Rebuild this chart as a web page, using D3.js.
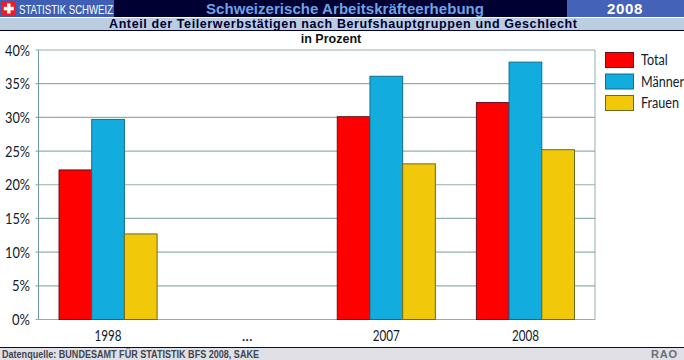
<!DOCTYPE html>
<html>
<head>
<meta charset="utf-8">
<script src="https://cdn.jsdelivr.net/npm/d3@7"></script>
<style>
html, body { margin: 0; padding: 0; background: #fff; }
svg { display: block; }
.head { font-family: "Liberation Sans", Arial, sans-serif; font-weight: bold; }
.lab { font-family: Lato, "Noto Sans", sans-serif; fill: #10202c; }
</style>
</head>
<body>
<div class="chart"></div>
<script>
const WIDTH = 684;
const HEIGHT = 360;

const MARGIN = {top: 50, left: 38.5, right: 595, bottom: 319.5};

const categories = ['1998', '...', '2007', '2008'];
const seriesNames = ['Total', 'Männer', 'Frauen'];
const total = [22.2, null, 30.1, 32.2];
const maenner = [29.7, null, 36.1, 38.2];
const frauen = [12.7, null, 23.1, 25.2];
const yTicks = [0, 5, 10, 15, 20, 25, 30, 35, 40];

const seriesValues = [total, maenner, frauen];
const fills = ['#ff0000', '#13acdf', '#f2c80a'];
const strokes = ['#6a1020', '#0f6f8c', '#6d6a20'];

var svg = d3.select('.chart').append('svg')
    .attr('width', WIDTH)
    .attr('height', HEIGHT);

var xScale = d3.scaleBand()
    .domain(categories)
    .range([MARGIN.left, MARGIN.right])
    .paddingInner(0.295)
    .paddingOuter(0.1475);

var innerScale = d3.scaleBand()
    .domain(seriesNames)
    .range([0, xScale.bandwidth()]);

var yScale = d3.scaleLinear()
    .domain([0, 40])
    .range([MARGIN.bottom, MARGIN.top]);

// header bands
svg.append('rect').attr('width', WIDTH).attr('height', 17).attr('fill', '#000033');
svg.append('rect').attr('width', 114).attr('height', 17).attr('fill', '#3e5fb4');
svg.append('rect').attr('x', 567).attr('width', WIDTH - 567).attr('height', 17).attr('fill', '#4463b8');
svg.append('rect').attr('y', 18).attr('width', WIDTH).attr('height', 12).attr('fill', '#bccde0');
svg.append('rect').attr('y', 30).attr('width', WIDTH).attr('height', 1).attr('fill', '#000033');

// swiss flag
svg.append('rect').attr('x', 1).attr('y', 1).attr('width', 15).attr('height', 15).attr('fill', '#ee1c25');
svg.append('rect').attr('x', 7).attr('y', 3.5).attr('width', 3.5).attr('height', 10).attr('fill', '#fff');
svg.append('rect').attr('x', 3.8).attr('y', 6.8).attr('width', 10).attr('height', 3.5).attr('fill', '#fff');

svg.append('text').attr('x', 19).attr('y', 13.5)
    .attr('font-family', '"Liberation Sans", Arial, sans-serif')
    .attr('font-size', 12.5).attr('fill', '#fff')
    .attr('textLength', 94).attr('lengthAdjust', 'spacingAndGlyphs')
    .text('STATISTIK SCHWEIZ');

svg.append('text').attr('class', 'head').attr('x', 345).attr('y', 14)
    .attr('text-anchor', 'middle').attr('font-size', 15).attr('fill', '#6fa3e6')
    .attr('textLength', 278)
    .text('Schweizerische Arbeitskräfteerhebung');

svg.append('text').attr('class', 'head').attr('x', 625).attr('y', 14)
    .attr('text-anchor', 'middle').attr('font-size', 15).attr('fill', '#fff')
    .attr('letter-spacing', 0.6)
    .text('2008');

svg.append('text').attr('class', 'head').attr('x', 343).attr('y', 28)
    .attr('text-anchor', 'middle').attr('font-size', 12.5).attr('fill', '#000033')
    .attr('textLength', 468)
    .text('Anteil der Teilerwerbstätigen nach Berufshauptgruppen und Geschlecht');

svg.append('text').attr('class', 'head').attr('x', 331).attr('y', 43)
    .attr('text-anchor', 'middle').attr('font-size', 12.5).attr('fill', '#111')
    .text('in Prozent');

// gridlines and plot frame
svg.append('g').selectAll('line').data(yTicks)
    .enter().append('line')
    .attr('x1', MARGIN.left - 3)
    .attr('x2', MARGIN.right)
    .attr('y1', d => yScale(d))
    .attr('y2', d => yScale(d))
    .attr('stroke', '#8fb0ae')
    .attr('stroke-width', 1.2);

svg.append('line')
    .attr('x1', MARGIN.left).attr('x2', MARGIN.left)
    .attr('y1', MARGIN.top).attr('y2', MARGIN.bottom)
    .attr('stroke', '#6f9a9a');
svg.append('line')
    .attr('x1', MARGIN.right).attr('x2', MARGIN.right)
    .attr('y1', MARGIN.top).attr('y2', MARGIN.bottom)
    .attr('stroke', '#8fb0ae');

// bars
seriesNames.forEach(function (name, s) {
    svg.append('g').selectAll('rect')
        .data(seriesValues[s].map((v, i) => ({cat: categories[i], v: v})).filter(d => d.v !== null))
        .enter().append('rect')
        .attr('x', d => xScale(d.cat) + innerScale(name))
        .attr('y', d => yScale(d.v))
        .attr('width', innerScale.bandwidth())
        .attr('height', d => yScale(0) - yScale(d.v))
        .attr('fill', fills[s])
        .attr('stroke', strokes[s])
        .attr('stroke-width', 1);
});

// y labels
svg.append('g').selectAll('text').data(yTicks)
    .enter().append('text')
    .attr('class', 'lab')
    .attr('x', 30)
    .attr('y', d => yScale(d) + 5.5)
    .attr('text-anchor', 'end')
    .attr('font-size', 15)
    .attr('textLength', d => d < 10 ? 18 : 25)
    .attr('lengthAdjust', 'spacingAndGlyphs')
    .text(d => d + '%');

// x labels
svg.append('g').selectAll('text').data(categories)
    .enter().append('text')
    .attr('class', 'lab')
    .attr('x', d => xScale(d) + xScale.bandwidth() / 2)
    .attr('y', 341)
    .attr('text-anchor', 'middle')
    .attr('font-size', 15)
    .attr('textLength', d => d === '...' ? 11 : 27)
    .attr('lengthAdjust', 'spacingAndGlyphs')
    .text(d => d);

// legend
var legend = svg.append('g').selectAll('g').data(seriesNames)
    .enter().append('g')
    .attr('transform', (d, i) => 'translate(605.5,' + (52.5 + i * 21.5) + ')');

legend.append('rect')
    .attr('width', 28).attr('height', 15)
    .attr('fill', (d, i) => fills[i])
    .attr('stroke', (d, i) => strokes[i]);

legend.append('text')
    .attr('class', 'lab')
    .attr('transform', 'translate(35.5,12.5) scale(0.84,1)')
    .attr('font-size', 15)
    .text(d => d);

// footer
svg.append('rect').attr('y', 347).attr('width', WIDTH).attr('height', 13).attr('fill', '#e0e0e6');
svg.append('rect').attr('y', 347).attr('width', WIDTH).attr('height', 1).attr('fill', '#111');

svg.append('text').attr('class', 'head').attr('x', 2).attr('y', 357.5)
    .attr('font-size', 10.5).attr('fill', '#404550')
    .attr('textLength', 257).attr('lengthAdjust', 'spacingAndGlyphs')
    .text('Datenquelle: BUNDESAMT FÜR STATISTIK BFS 2008, SAKE');

svg.append('text').attr('class', 'head').attr('x', 651).attr('y', 357.5)
    .attr('font-size', 11).attr('fill', '#6b6f78')
    .attr('letter-spacing', 0.8)
    .text('RAO');
</script>
</body>
</html>
